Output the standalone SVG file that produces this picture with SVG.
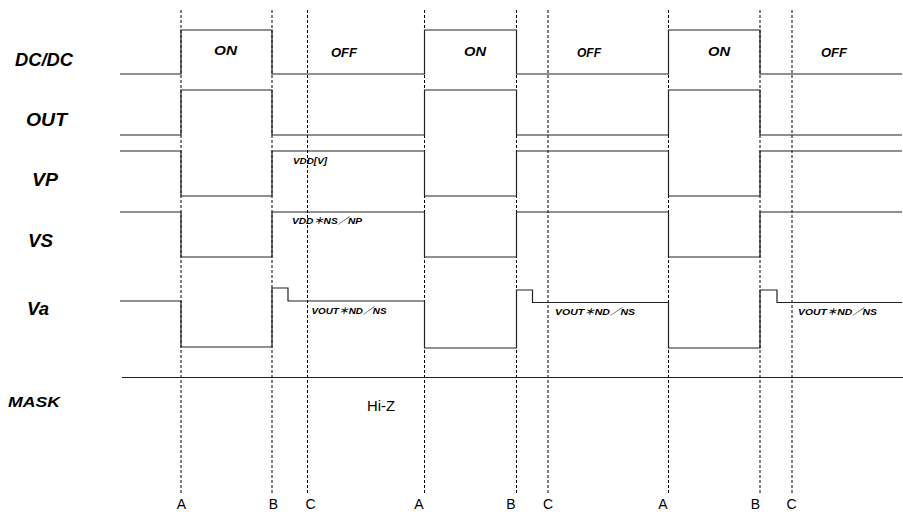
<svg xmlns="http://www.w3.org/2000/svg" width="903" height="512" viewBox="0 0 903 512">
<style>
  .sig { fill: none; stroke: #222; stroke-width: 1.2; }
  .guide { fill: none; stroke: #000; stroke-width: 1; stroke-dasharray: 3 2; }
  .lbl { font-family: "Liberation Sans", Arial, sans-serif; font-weight: bold; font-style: italic; fill: #000; }
  .big { font-size: 19px; }
  .st { font-size: 12.5px; }
  .sm { font-size: 9px; font-family: "Liberation Sans", "Noto Sans CJK JP", sans-serif; }
  .plain { font-family: "Liberation Sans", Arial, sans-serif; font-size: 14px; fill: #000; }
</style>
<rect width="903" height="512" fill="#fff"/>

<g id="connectors">
  <line class="guide" x1="181" y1="10" x2="181" y2="494"/>
  <line class="guide" x1="272" y1="10" x2="272" y2="494"/>
  <line class="guide" x1="307.5" y1="10" x2="307.5" y2="494"/>
  <line class="guide" x1="424.5" y1="10" x2="424.5" y2="494"/>
  <line class="guide" x1="516.5" y1="10" x2="516.5" y2="494"/>
  <line class="guide" x1="548" y1="10" x2="548" y2="494"/>
  <line class="guide" x1="668.5" y1="10" x2="668.5" y2="494"/>
  <line class="guide" x1="760" y1="10" x2="760" y2="494"/>
  <line class="guide" x1="792" y1="10" x2="792" y2="494"/>
</g>

<g id="sig-dcdc">
  <text class="lbl big" x="15" y="66" textLength="58" lengthAdjust="spacingAndGlyphs">DC/DC</text>
  <path class="sig" d="M120,74 H181 V30 H272 V74 H424.5 V30 H516.5 V74 H668.5 V30 H760 V74 H902"/>
  <text class="lbl st" x="214" y="55" textLength="23" lengthAdjust="spacingAndGlyphs">ON</text>
  <text class="lbl st" x="331" y="57" textLength="26" lengthAdjust="spacingAndGlyphs">OFF</text>
  <text class="lbl st" x="464" y="56" textLength="22" lengthAdjust="spacingAndGlyphs">ON</text>
  <text class="lbl st" x="577" y="57" textLength="24" lengthAdjust="spacingAndGlyphs">OFF</text>
  <text class="lbl st" x="708" y="56" textLength="22" lengthAdjust="spacingAndGlyphs">ON</text>
  <text class="lbl st" x="821" y="57" textLength="26" lengthAdjust="spacingAndGlyphs">OFF</text>
</g>

<g id="sig-out">
  <text class="lbl big" x="26" y="126" textLength="41" lengthAdjust="spacingAndGlyphs">OUT</text>
  <path class="sig" d="M120,135 H181 V90 H272 V135 H424.5 V90 H516.5 V135 H668.5 V90 H760 V135 H902"/>
</g>

<g id="sig-vp">
  <text class="lbl big" x="32" y="186" textLength="26" lengthAdjust="spacingAndGlyphs">VP</text>
  <path class="sig" d="M120,151 H181 V196 H272 V151 H424.5 V196 H516.5 V151 H668.5 V196 H760 V151 H902"/>
  <text class="lbl sm" x="293" y="163.5" textLength="34" lengthAdjust="spacingAndGlyphs">VDD[V]</text>
</g>

<g id="sig-vs">
  <text class="lbl big" x="28" y="247" textLength="25" lengthAdjust="spacingAndGlyphs">VS</text>
  <path class="sig" d="M120,212 H181 V257 H272 V212 H424.5 V257 H516.5 V212 H668.5 V257 H760 V212 H902"/>
  <text class="lbl sm" x="292" y="224" textLength="70" lengthAdjust="spacingAndGlyphs">VDD＊NS／NP</text>
</g>

<g id="sig-va">
  <text class="lbl big" x="27" y="315" textLength="22" lengthAdjust="spacingAndGlyphs">Va</text>
  <path class="sig" d="M120,301 H181 V347 H272 V288 H288 V301 H424.5 V348 H516.5 V290 H532.5 V302.5 H668.5 V348 H760 V290 H777 V302.5 H902"/>
  <text class="lbl sm" x="311.5" y="314" textLength="75" lengthAdjust="spacingAndGlyphs">VOUT＊ND／NS</text>
  <text class="lbl sm" x="555" y="314.5" textLength="80" lengthAdjust="spacingAndGlyphs">VOUT＊ND／NS</text>
  <text class="lbl sm" x="798" y="314.5" textLength="79" lengthAdjust="spacingAndGlyphs">VOUT＊ND／NS</text>
</g>

<g id="sig-mask">
  <text class="lbl big" x="8" y="407" textLength="52" lengthAdjust="spacingAndGlyphs" style="font-size:15px">MASK</text>
  <path class="sig" d="M122,377.5 H903"/>
  <text class="plain" x="367" y="411" textLength="28" lengthAdjust="spacingAndGlyphs">Hi-Z</text>
</g>

<g id="timing-labels" class="plain" text-anchor="middle" style="font-size:14px">
  <text x="181.5" y="509">A</text>
  <text x="273.5" y="509">B</text>
  <text x="310.5" y="509">C</text>
  <text x="419" y="509">A</text>
  <text x="511" y="509">B</text>
  <text x="548" y="509">C</text>
  <text x="663" y="509">A</text>
  <text x="755.5" y="509">B</text>
  <text x="791.5" y="509">C</text>
</g>
</svg>
